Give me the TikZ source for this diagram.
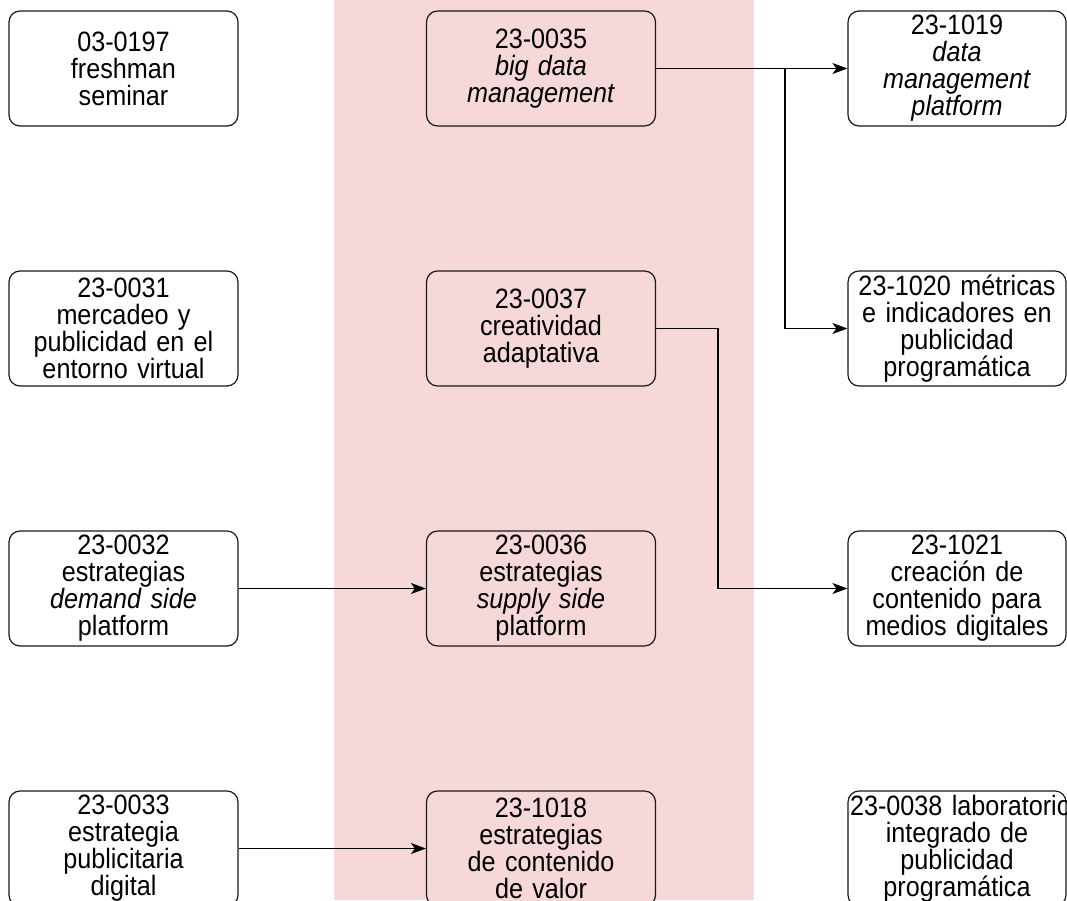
\documentclass[tikz,border=0pt]{standalone}
\usepackage{fontspec}
\setmainfont{Liberation Sans}[FakeStretch=0.9]
\usetikzlibrary{arrows.meta}
\definecolor{pinkbg}{RGB}{245,216,215}
\begin{document}
\begin{tikzpicture}[x=1pt,y=-1pt,
  box/.style={draw=black!90, line width=1.2pt, rounded corners=11pt,
    minimum width=229pt, minimum height=115pt, inner sep=0pt,
    text width=224pt, align=center, fill=white,
    font=\fontsize{28}{27}\selectfont},
  rbox/.style={box, minimum width=218pt, text width=214pt},
  mbox/.style={box, fill=pinkbg},
  arr/.style={draw=black, line width=1.2pt, -{Stealth[length=15pt,width=11pt,inset=4pt]}}
]
\useasboundingbox (0,0) rectangle (1067,900);
\clip (0,0) rectangle (1067,900);
\fill[pinkbg] (334,0) rectangle (754,900);

% left column
\node[box] (l97) at (123.5,68.5) {03-0197\\freshman\\seminar};
\node[box] (l31) at (123.5,328.5) {23-0031\\mercadeo y\\publicidad en el\\entorno virtual};
\node[box] (l32) at (123.5,588.5) {23-0032\\estrategias\\\textit{demand side}\\platform};
\node[box] (l33) at (123.5,848.5) {23-0033\\estrategia\\publicitaria\\digital};

% middle column
\node[mbox] (m35) at (541,68.5) {23-0035\\\textit{big data}\\\textit{management}};
\node[mbox] (m37) at (541,328.5) {23-0037\\creatividad\\adaptativa};
\node[mbox] (m36) at (541,588.5) {23-0036\\estrategias\\\textit{supply side}\\platform};
\node[mbox] (m18) at (541,848.5) {23-1018\\estrategias\\de contenido\\de valor};

% right column
\node[rbox] (r19) at (957,68.5) {23-1019\\\textit{data}\\\textit{management}\\\textit{platform}};
\node[rbox] (r20) at (957,328.5) {\mbox{23-1020 métricas}\\\mbox{e indicadores en}\\publicidad\\programática};
\node[rbox] (r21) at (957,588.5) {23-1021\\creación de\\\mbox{contenido para}\\\mbox{medios digitales}};
\node[rbox] (r38) at (957,848.5) {\mbox{23-0038 laboratorio}\\integrado de\\publicidad\\programática};

% connectors
\coordinate (j1) at (785,68.5);
\coordinate (j2) at (718,328.5);
\draw[arr] (m35.east) -- (r19.west);
\draw[arr] (j1) |- (r20.west);
\draw[arr] (m37.east) -- (j2) |- (r21.west);
\draw[arr] (l32.east) -- (m36.west);
\draw[arr] (l33.east) -- (m18.west);
\end{tikzpicture}
\end{document}
